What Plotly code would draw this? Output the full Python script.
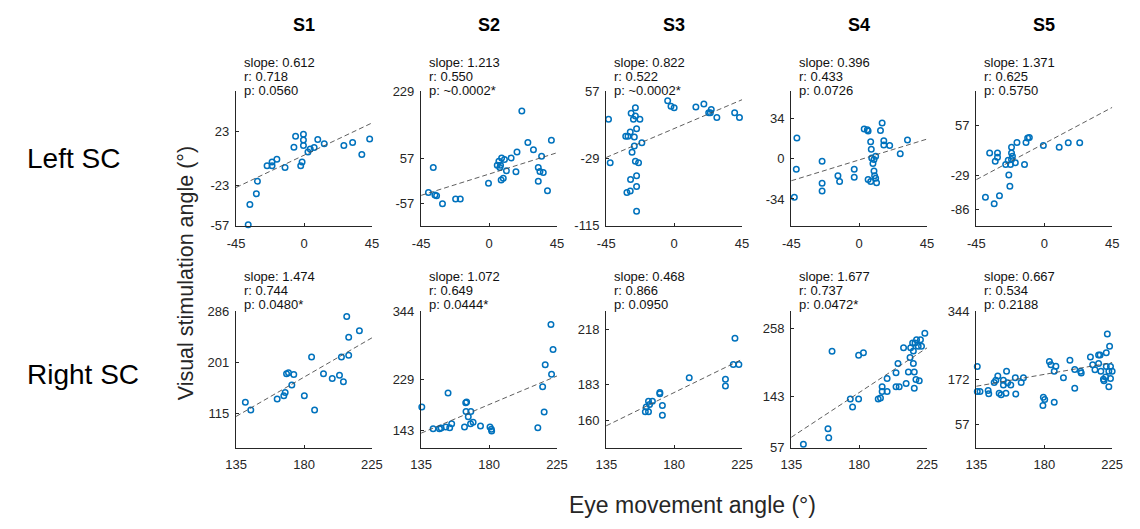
import math
import plotly.graph_objects as go

FONT = "Liberation Sans, Arial, Helvetica, sans-serif"
BLUE = "#0072BD"
INK = "#262626"
W, H = 1140, 529

subjects = ["S1", "S2", "S3", "S4", "S5"]
row_names = ["Left SC", "Right SC"]

# ---------------- Left SC: eye movement angle (x) vs visual stimulation angle (y), degrees
left_s1_x = [-5.6, -0.4, -0.4, -6.7, -0.4, 9.1, 13.4, 6.7, 4.1, 2.6, 26.4, 32.2, 43.5, 38.3,
             -18.0, -21.2, -24.5, -21.2, -12.6, -1.3, -2.2, -30.9, -31.6, -35.9, -37.0]
left_s1_y = [19.3, 20.9, 16.0, 9.9, 11.3, 16.5, 12.7, 9.6, 8.3, 5.8, 11.3, 13.8, 16.8, 3.6,
             -0.5, -2.8, -6.1, -6.1, -7.4, -2.8, -6.1, -19.3, -30.0, -39.1, -56.5]

left_s2_x = [21.7, 25.7, 29.4, 34.8, 18.5, 14.6, 10.2, 8.3, 6.5, 5.4, 7.6, 7.1, 11.5, 17.8,
             -0.4, 8.0, 9.4, 32.6, 33.7, 35.9, 32.6, 38.7, -37.0, -40.2, -35.9, -34.8,
             -30.9, -22.2, -19.1, 41.3]
left_s2_y = [179.5, 99.1, 80.1, 63.5, 74.3, 59.4, 55.2, 59.4, 51.1, 40.3, 40.3, 34.5, 26.2, 23.7,
             -5.3, 3.0, 7.2, 34.5, 24.6, 22.1, -0.3, -25.1, 34.5, -29.3, -35.9, -37.6,
             -58.3, -45.8, -45.8, 104.9]

left_s3_x = [-43.5, -42.4, -25.7, -28.5, -25.7, -27.0, -22.7, -29.1, -24.9, -32.1, -30.6, -26.4,
             -21.4, -26.4, -27.9, -25.7, -23.6, -24.9, -28.9, -24.9, -31.3, -29.1, -24.9,
             -4.3, -2.1, 0.0, 14.4, 19.7, 24.6, 22.9, 24.0, 28.3, 40.1, 43.3]
left_s3_y = [22.1, -33.8, 36.6, 29.5, 26.2, 22.1, 22.1, 5.5, 9.7, 0.1, 0.1, -0.7,
             -8.1, -12.3, -20.2, -31.8, -33.8, -50.4, -55.4, -64.1, -71.9, -69.9, -96.0,
             45.7, 38.7, 36.6, 37.8, 41.6, 34.5, 30.4, 30.4, 24.2, 30.4, 24.2]

left_s4_x = [-41.3, -41.7, -43.0, -24.6, -24.6, -24.6, -14.1, -13.0, -3.3, -3.3, 3.3, 5.4, 5.9,
             15.2, 14.1, 16.3, 16.3, 20.2, 7.6, 8.0, 10.9, 8.3, 9.8, 9.1, 9.8, 10.2, 10.9,
             5.9, 7.6, 11.5, 27.2, 32.0]
left_s4_y = [17.8, -9.0, -33.0, -2.1, -20.9, -27.5, -14.5, -19.5, -9.0, -15.9, 25.5, 24.7, 23.6,
             30.5, 24.1, 15.3, 11.7, 11.2, 14.5, 8.1, 2.1, 0.7, -0.7, -4.0, -10.4, -14.5, -16.7,
             -17.8, -19.5, -20.6, 4.3, 15.9]

left_s5_x = [-39.0, -33.2, -29.7, -23.5, -22.8, -36.2, -31.0, -31.0, -32.5, -21.7, -21.7, -21.1,
             -21.7, -23.9, -25.6, -22.4, -19.2, -18.1, -12.1, -11.0, -9.9, -13.1, -0.6, 9.9,
             15.9, 23.5]
left_s5_y = [-66.0, -77.0, -63.2, -27.9, -47.2, 9.7, 9.7, 2.5, -4.1, 19.6, 9.7, 4.1,
             -1.4, -2.5, -9.7, -9.7, -6.9, 27.9, 27.9, 35.6, 36.2, -9.7, 22.4, 19.6,
             27.3, 27.3]

# ---------------- Right SC
right_s1_x = [208.3, 216.7, 209.6, 209.6, 204.8, 185.0, 192.9, 198.7, 203.5, 206.1, 168.4,
              169.7, 173.2, 171.9, 167.5, 166.6, 162.2, 180.2, 187.0, 141.1, 144.7]
right_s1_y = [278.3, 254.3, 243.4, 212.8, 210.1, 210.1, 181.7, 173.5, 179.0, 168.1, 181.7,
              183.4, 180.6, 162.6, 150.1, 144.6, 139.2, 144.6, 120.6, 133.7, 120.6]

right_s2_x = [135.4, 142.9, 147.1, 148.2, 151.3, 153.9, 155.2, 152.8, 163.7, 164.5, 165.1,
              164.7, 166.2, 167.9, 167.7, 169.4, 174.3, 180.6, 181.5, 181.7, 212.3, 215.5,
              216.5, 217.2, 221.0, 222.4, 221.4]
right_s2_y = [182.8, 146.3, 146.3, 147.3, 149.0, 147.9, 154.4, 206.3, 149.0, 189.9, 191.5,
              175.2, 166.4, 175.2, 154.4, 157.2, 150.6, 149.0, 145.2, 142.4, 147.9, 217.2,
              174.6, 254.3, 322.0, 280.0, 238.0]

right_s3_x = [160.9, 163.0, 161.5, 163.0, 163.7, 165.6, 170.5, 170.5, 172.2, 172.2, 190.0,
              214.0, 214.0, 220.3, 219.2, 222.9]
right_s3_y = [165.9, 165.9, 168.8, 172.5, 170.4, 172.5, 177.2, 178.0, 169.8, 163.7, 187.4,
              186.4, 182.1, 212.4, 195.7, 195.7]

right_s4_x = [143.0, 159.3, 159.8, 162.0, 179.6, 182.8, 174.1, 175.6, 179.6, 192.6, 194.1,
              195.2, 195.2, 198.5, 198.5, 204.4, 206.5, 204.4, 205.7, 209.4, 223.5, 220.6,
              218.0, 217.0, 215.4, 219.1, 214.1, 221.3, 215.9, 213.7, 215.9, 212.6, 216.5,
              217.6, 219.8, 211.1, 216.5]
right_s4_y = [62.8, 88.9, 73.7, 219.9, 212.8, 217.2, 139.2, 125.5, 139.2, 139.2, 140.8,
              151.7, 159.9, 151.7, 173.5, 159.9, 159.9, 183.4, 199.2, 225.4, 250.0, 239.0,
              239.0, 233.6, 233.6, 228.2, 225.4, 228.2, 220.0, 209.1, 199.2, 184.5, 184.5,
              171.9, 169.8, 165.3, 157.2]

right_s5_x = [135.6, 135.6, 137.4, 142.8, 143.2, 146.8, 147.9, 149.2, 150.1, 151.4, 152.9,
              152.9, 155.0, 155.7, 154.6, 157.8, 160.8, 161.1, 164.7, 166.2, 179.4, 180.3,
              179.1, 183.4, 184.4, 187.7, 186.6, 186.6, 192.7, 197.0, 200.2, 200.2, 204.1,
              204.5, 210.6, 212.1, 213.6, 216.0, 217.0, 216.0, 217.5, 219.2, 219.6, 221.8,
              223.3, 221.1, 221.1, 223.9, 222.8, 225.0, 223.9, 222.8, 220.7]
right_s5_y = [204.7, 141.6, 141.6, 144.1, 135.9, 164.5, 170.3, 180.9, 137.5, 133.4, 170.3,
              158.0, 193.2, 163.7, 137.5, 158.0, 176.8, 135.1, 164.5, 176.8, 126.9, 121.2,
              106.4, 217.7, 209.6, 205.5, 193.2, 114.6, 176.8, 221.0, 197.3, 149.8, 193.2,
              188.3, 229.2, 209.6, 196.5, 234.1, 234.1, 212.8, 193.2, 172.7, 168.6, 287.3,
              256.2, 239.9, 204.7, 204.7, 193.2, 193.2, 174.4, 153.9, 178.5]

# ---------------- fit statistics
left_slope = [0.612, 1.213, 0.822, 0.396, 1.371]
left_r = ["0.718", "0.550", "0.522", "0.433", "0.625"]
left_p = ["0.0560", "~0.0002*", "~0.0002*", "0.0726", "0.5750"]
left_fit_mid = [3, 18, 10, -1, 26]          # fitted y at x = 0

right_slope = [1.474, 1.072, 0.468, 1.677, 0.667]
right_r = ["0.744", "0.649", "0.866", "0.737", "0.534"]
right_p = ["0.0480*", "0.0444*", "0.0950", "0.0472*", "0.2188"]
right_fit_mid = [176, 187, 178, 150, 185]   # fitted y at x = 180

# ---------------- axis ranges / ticks (radian multiples shown in degrees)
left_xrange, left_xticks = [-45, 45], [-45, 0, 45]
right_xrange, right_xticks = [135, 225], [135, 180, 225]

left_yrange_rad = [[-1, 1], [-2, 4], [-2, 1], [-1, 1], [-2, 2]]
left_ytick_rad = [[-1, -0.4, 0.4], [-1, 1, 4], [-2, -0.5, 1], [-0.6, 0, 0.6], [-1.5, -0.5, 1]]
left_ytick_text = [["-57", "-23", "23"], ["-57", "57", "229"], ["-115", "-29", "57"],
                   ["-34", "0", "34"], ["-86", "-29", "57"]]

right_yrange_rad = [[1, 5], [2, 6], [2.5, 4], [1, 5], [0, 6]]
right_ytick_rad = [[2, 3.5, 5], [2.5, 4, 6], [2.8, 3.2, 3.8], [1, 2.5, 4.5], [1, 3, 6]]
right_ytick_text = [["115", "201", "286"], ["143", "229", "344"], ["160", "183", "218"],
                    ["57", "143", "258"], ["57", "172", "344"]]

# ---------------- panel geometry (pixels)
col_left = [229.3, 418.0, 606.7, 795.4, 984.1]
panel_w = 139.0
row_top = [86.7, 312.7]
row_bot = [225.0, 452.7]
stat_line_y = [[56.5, 71.1, 85.7], [276.5, 291.1, 305.7]]


def px_x(p):
    return p / W


def px_y(p):
    return 1 - p / H


deg = 180 / math.pi

rows_data = [
    dict(xs=[left_s1_x, left_s2_x, left_s3_x, left_s4_x, left_s5_x],
         ys=[left_s1_y, left_s2_y, left_s3_y, left_s4_y, left_s5_y],
         slope=left_slope, r=left_r, p=left_p, mid=left_fit_mid, xc=0,
         xrange=left_xrange, xticks=left_xticks,
         yrange=left_yrange_rad, yticks=left_ytick_rad, ytext=left_ytick_text),
    dict(xs=[right_s1_x, right_s2_x, right_s3_x, right_s4_x, right_s5_x],
         ys=[right_s1_y, right_s2_y, right_s3_y, right_s4_y, right_s5_y],
         slope=right_slope, r=right_r, p=right_p, mid=right_fit_mid, xc=180,
         xrange=right_xrange, xticks=right_xticks,
         yrange=right_yrange_rad, yticks=right_ytick_rad, ytext=right_ytick_text),
]

fig = go.Figure()
layout = {}
annotations = []

k = 0
for ri, rd in enumerate(rows_data):
    for ci in range(5):
        k += 1
        sx = "" if k == 1 else str(k)
        xa, ya = "x" + sx, "y" + sx

        x0, x1 = rd["xrange"]
        xpad = (x1 - x0) * 0.002
        y0, y1 = [v * deg for v in rd["yrange"][ci]]
        ypad = (y1 - y0) * 0.002

        axis_common = dict(
            showgrid=False, zeroline=False, showline=True, linecolor=INK, linewidth=1,
            ticks="inside", ticklen=3, tickwidth=1, tickcolor=INK,
            tickfont=dict(family=FONT, size=13, color=INK),
            tickmode="array", fixedrange=True,
        )
        layout["xaxis" + sx] = dict(
            axis_common,
            domain=[px_x(col_left[ci]), px_x(col_left[ci] + panel_w)],
            range=[x0 - xpad, x1 + xpad], anchor=ya, ticklabelstandoff=5,
            tickvals=rd["xticks"], ticktext=[str(t) for t in rd["xticks"]],
        )
        layout["yaxis" + sx] = dict(
            axis_common,
            domain=[px_y(row_bot[ri]), px_y(row_top[ri])],
            range=[y0 - ypad, y1 + ypad], anchor=xa, ticklabelstandoff=3,
            tickvals=[t * deg for t in rd["yticks"][ci]], ticktext=rd["ytext"][ci],
        )

        # scatter of individual trials
        fig.add_trace(go.Scatter(
            x=rd["xs"][ci], y=rd["ys"][ci], mode="markers", xaxis=xa, yaxis=ya,
            marker=dict(symbol="circle-open", size=5.5, color=BLUE,
                        line=dict(width=1.5, color=BLUE)),
            cliponaxis=False, showlegend=False, hoverinfo="skip",
        ))

        # linear fit across the full x range
        m, b, xc = rd["slope"][ci], rd["mid"][ci], rd["xc"]
        lx = [x0, x1]
        ly = [b + m * (v - xc) for v in lx]
        fig.add_trace(go.Scatter(
            x=lx, y=ly, mode="lines", xaxis=xa, yaxis=ya,
            line=dict(color="#4d4d4d", width=0.9, dash="5px,3px"),
            showlegend=False, hoverinfo="skip",
        ))

        # statistics text above each panel
        lines = ["slope: %.3f" % m, "r: " + rd["r"][ci], "p: " + rd["p"][ci]]
        for li, txt in enumerate(lines):
            annotations.append(dict(
                text=txt, xref="paper", yref="paper",
                x=px_x(col_left[ci] + 7.5), y=px_y(stat_line_y[ri][li]),
                xanchor="left", yanchor="middle", showarrow=False, borderpad=0,
                font=dict(family=FONT, size=13, color="#111111"),
            ))

# column headers
for ci, s in enumerate(subjects):
    annotations.append(dict(
        text="<b>%s</b>" % s, xref="paper", yref="paper",
        x=px_x(col_left[ci] + panel_w / 2), y=px_y(18), xanchor="center", yanchor="middle",
        showarrow=False, font=dict(family=FONT, size=18, color="#000000"),
    ))

# row labels
for ri, name in enumerate(row_names):
    annotations.append(dict(
        text=name, xref="paper", yref="paper",
        x=px_x(14), y=px_y([156, 378][ri]), xanchor="left", yanchor="middle",
        showarrow=False, font=dict(family=FONT, size=28, color="#000000"),
    ))

# shared axis titles
annotations.append(dict(
    text="Visual stimulation angle (°)", xref="paper", yref="paper",
    x=px_x(178), y=px_y(274), xanchor="center", yanchor="middle", textangle=-90,
    showarrow=False, font=dict(family=FONT, size=21.5, color=INK),
))
annotations.append(dict(
    text="Eye movement angle (°)", xref="paper", yref="paper",
    x=px_x(695), y=px_y(512), xanchor="center", yanchor="middle",
    showarrow=False, font=dict(family=FONT, size=23, color=INK),
))

fig.update_layout(
    width=W, height=H, autosize=False,
    margin=dict(l=0, r=0, t=0, b=0),
    paper_bgcolor="white", plot_bgcolor="white",
    annotations=annotations,
    **layout,
)

fig.write_html("out.html", config={"displayModeBar": False})
